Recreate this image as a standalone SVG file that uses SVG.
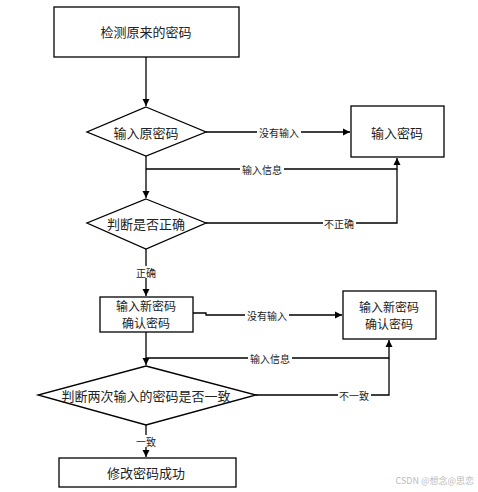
<svg xmlns="http://www.w3.org/2000/svg" width="478" height="492" viewBox="0 0 478 492">
<defs>
<marker id="arr" markerWidth="8" markerHeight="8" refX="7" refY="4" orient="auto" markerUnits="userSpaceOnUse">
<path d="M0,0.5 L7,4 L0,7.5 Z" fill="#000"/>
</marker>
<style>
.node{fill:#fff;stroke:#000;stroke-width:1.3}
.t{font-family:"Noto Sans CJK SC","Noto Sans",sans-serif;font-size:13px;fill:#222;text-anchor:middle;dominant-baseline:central}
.t2{font-family:"Noto Sans CJK SC","Noto Sans",sans-serif;font-size:12px;fill:#222;text-anchor:middle;dominant-baseline:central}
.lbl{font-family:"Noto Sans CJK SC","Noto Sans",sans-serif;font-size:10px;fill:#222;text-anchor:middle;dominant-baseline:central}
.lb{fill:#fff}
.c{fill:none;stroke:#000;stroke-width:1.3}
.wm{font-family:"Noto Sans CJK SC","Noto Sans",sans-serif;font-size:9px;fill:#bbb;text-anchor:end;dominant-baseline:central}
</style>
</defs>
<rect width="478" height="492" fill="#fff"/>
<g id="connectors">
<path class="c" d="M146,57 V106" marker-end="url(#arr)"/>
<path class="c" d="M206,132 H350" marker-end="url(#arr)"/>
<path class="c" d="M146,156 V198" marker-end="url(#arr)"/>
<path class="c" d="M146,169 H397 V158" marker-end="url(#arr)"/>
<path class="c" d="M206,223 H397 V169"/>
<path class="c" d="M146,249 V296" marker-end="url(#arr)"/>
<path class="c" d="M193,313 H206 V315 H342" marker-end="url(#arr)"/>
<path class="c" d="M146,332 V365" marker-end="url(#arr)"/>
<path class="c" d="M146,358 H389 V340" marker-end="url(#arr)"/>
<path class="c" d="M256,395 H389 V358"/>
<path class="c" d="M146,425 V457" marker-end="url(#arr)"/>
<rect class="lb" x="257" y="126" width="44" height="12"/>
<text class="lbl" x="279" y="132">没有输入</text>
<rect class="lb" x="240" y="163" width="44" height="12"/>
<text class="lbl" x="262" y="169">输入信息</text>
<rect class="lb" x="323" y="217" width="33" height="12"/>
<text class="lbl" x="339" y="223">不正确</text>
<rect class="lb" x="134" y="266" width="24" height="12"/>
<text class="lbl" x="146" y="272">正确</text>
<rect class="lb" x="245" y="309" width="44" height="12"/>
<text class="lbl" x="267" y="315">没有输入</text>
<rect class="lb" x="248" y="352" width="44" height="12"/>
<text class="lbl" x="270" y="358">输入信息</text>
<rect class="lb" x="338" y="389" width="33" height="12"/>
<text class="lbl" x="354" y="395">不一致</text>
<rect class="lb" x="134" y="435" width="24" height="12"/>
<text class="lbl" x="146" y="441">一致</text>
</g>
<g id="n1"><rect class="node" x="54" y="7" width="185" height="50"/><text class="t" x="146" y="31">检测原来的密码</text></g>
<g id="n2"><polygon class="node" points="146,107 206,132 146,156 87,132"/><text class="t" x="146" y="132">输入原密码</text></g>
<g id="n3"><rect class="node" x="351" y="106" width="93" height="51"/><text class="t" x="397" y="132">输入密码</text></g>
<g id="n4"><polygon class="node" points="146,199 206,223 146,249 87,223"/><text class="t" x="146" y="223">判断是否正确</text></g>
<g id="n5"><rect class="node" x="100" y="297" width="93" height="35"/><text class="t2" x="146" y="305.5">输入新密码</text><text class="t2" x="146" y="322.5">确认密码</text></g>
<g id="n6"><rect class="node" x="343" y="291" width="93" height="48"/><text class="t2" x="389" y="306.5">输入新密码</text><text class="t2" x="389" y="323.5">确认密码</text></g>
<g id="n7"><polygon class="node" points="146,366 256,395 146,425 38,395"/><text class="t" x="146" y="395">判断两次输入的密码是否一致</text></g>
<g id="n8"><rect class="node" x="59" y="458" width="177" height="29"/><text class="t" x="146" y="472">修改密码成功</text></g>
<text class="wm" x="474" y="480">CSDN @想念@思恋</text>
</svg>
